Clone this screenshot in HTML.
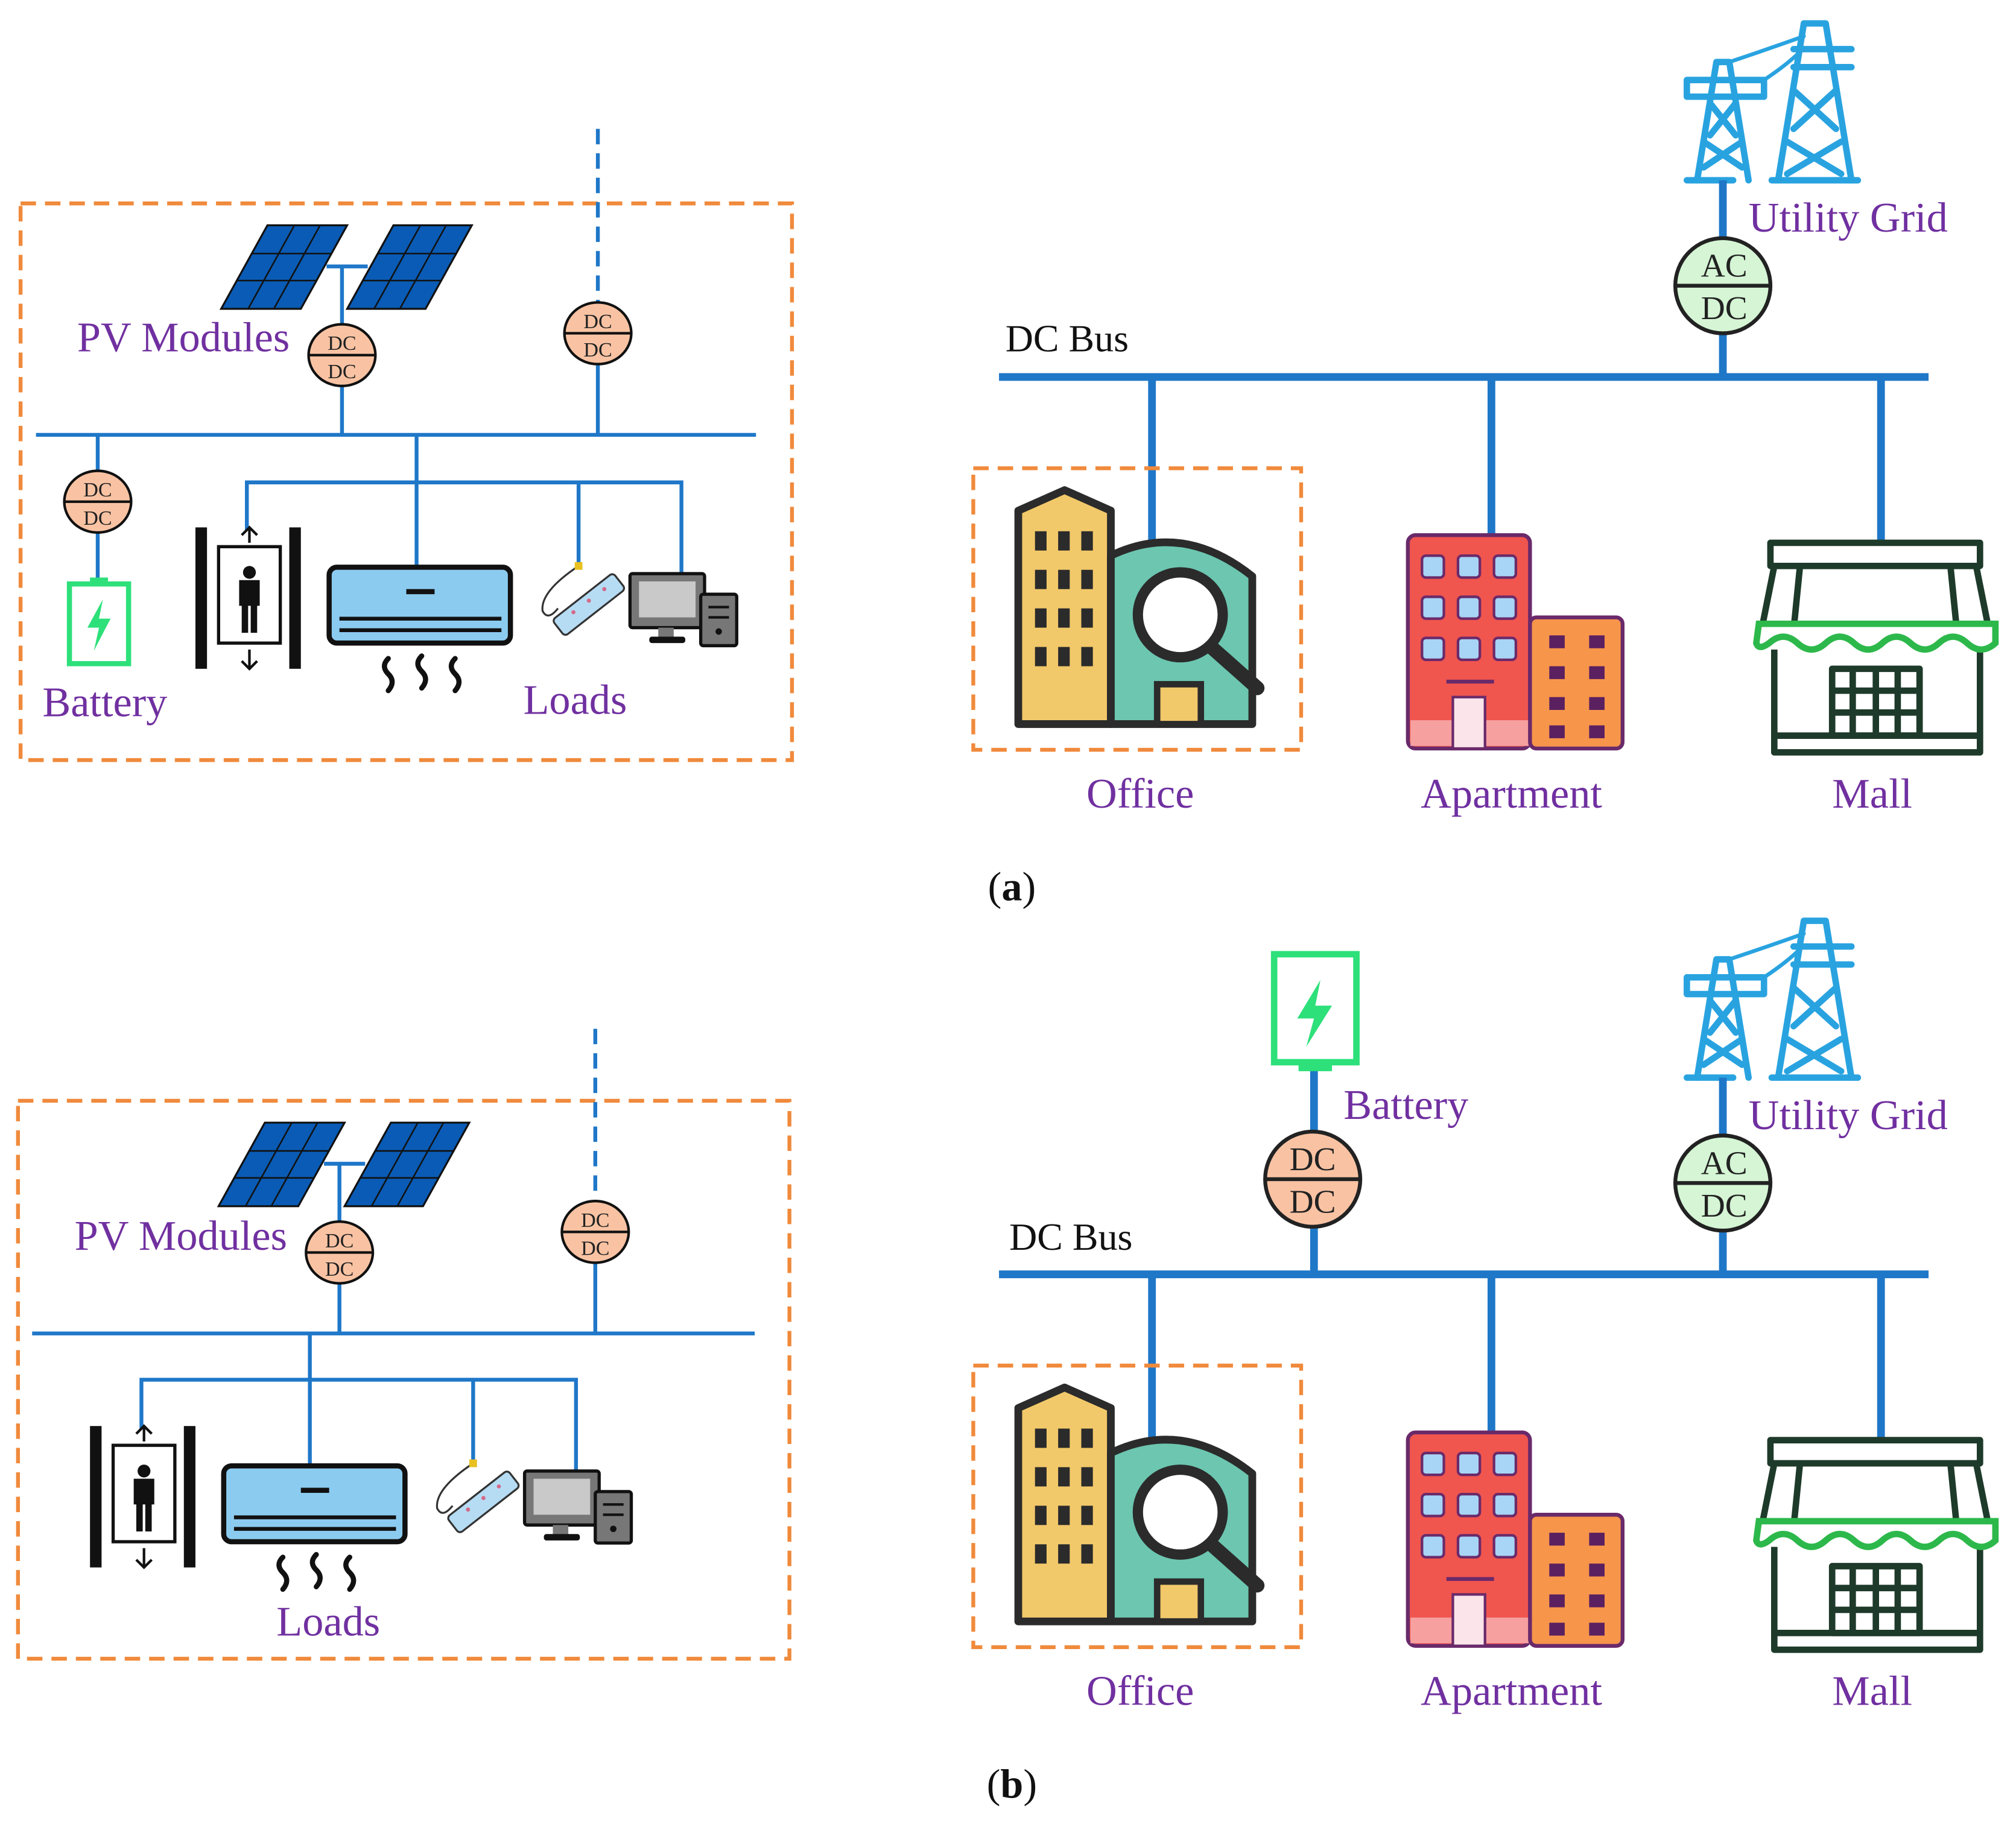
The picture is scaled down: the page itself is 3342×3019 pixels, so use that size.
<!DOCTYPE html>
<html><head><meta charset="utf-8"><style>
html,body{margin:0;padding:0;background:#fff;}
svg{display:block;}
text{font-family:"Liberation Serif",serif;}
</style></head><body>
<svg width="3342" height="3019" viewBox="0 0 1568 1416" xmlns="http://www.w3.org/2000/svg">
<defs>
<g id="pv">
 <polygon points="172,240 208,175 270,175 234,240" fill="#0a5bb5" stroke="#111" stroke-width="1.5"/>
 <g stroke="#111" stroke-width="1.2">
  <line x1="184" y1="218" x2="246" y2="218"/><line x1="196" y1="197" x2="258" y2="197"/>
  <line x1="193" y1="240" x2="229" y2="175"/><line x1="213" y1="240" x2="249" y2="175"/>
 </g>
 <polygon points="270,240 306,175 367,175 331,240" fill="#0a5bb5" stroke="#111" stroke-width="1.5"/>
 <g stroke="#111" stroke-width="1.2">
  <line x1="282" y1="218" x2="343" y2="218"/><line x1="294" y1="197" x2="355" y2="197"/>
  <line x1="291" y1="240" x2="327" y2="175"/><line x1="311" y1="240" x2="347" y2="175"/>
 </g>
 <line x1="254" y1="207" x2="286" y2="207" stroke="#1f77c8" stroke-width="3"/>
</g>
<g id="conv">
 <ellipse cx="0" cy="0" rx="26" ry="24" fill="#f9c3a3" stroke="#111" stroke-width="2"/>
 <line x1="-26" y1="0" x2="26" y2="0" stroke="#111" stroke-width="2"/>
 <text x="0" y="-4" font-size="16" text-anchor="middle" fill="#222">DC</text>
 <text x="0" y="18" font-size="16" text-anchor="middle" fill="#222">DC</text>
</g>
<g id="elev">
 <rect x="152" y="410" width="9" height="110" fill="#111"/>
 <rect x="225" y="410" width="9" height="110" fill="#111"/>
 <rect x="170" y="425" width="48" height="75" fill="#fff" stroke="#111" stroke-width="2.5"/>
 <circle cx="194" cy="445" r="5" fill="#111"/>
 <rect x="186" y="451" width="16" height="20" fill="#111"/>
 <rect x="188" y="470" width="5" height="22" fill="#111"/><rect x="195" y="470" width="5" height="22" fill="#111"/>
 <path d="M194,422 V410 M188,416 L194,410 L200,416 M194,505 V520 M188,514 L194,520 L200,514" stroke="#111" stroke-width="2" fill="none"/>
</g>
<g id="ac">
 <rect x="256" y="441" width="141" height="59" rx="6" fill="#8ccbf0" stroke="#111" stroke-width="4"/>
 <line x1="316" y1="460" x2="338" y2="460" stroke="#111" stroke-width="4"/>
 <line x1="264" y1="481" x2="390" y2="481" stroke="#111" stroke-width="3"/>
 <line x1="264" y1="490" x2="390" y2="490" stroke="#111" stroke-width="3"/>
 <path d="M302,512 q-6,6 0,12 q6,6 0,13 M328,510 q-6,6 0,12 q6,6 0,13 M354,512 q-6,6 0,12 q6,6 0,13" stroke="#111" stroke-width="4" fill="none" stroke-linecap="round"/>
</g>
<g id="strip">
 <path d="M450,440 q-30,20 -28,35 q4,8 12,-2" stroke="#333" stroke-width="1.5" fill="none"/>
 <rect x="447" y="437" width="6" height="6" fill="#e8c020"/>
 <rect x="428" y="462" width="60" height="16" rx="3" fill="#b6dcf4" stroke="#333" stroke-width="1.5" transform="rotate(-38 458 470)"/>
 <g fill="#d46a8a"><circle cx="446" cy="476" r="1.6"/><circle cx="458" cy="467" r="1.6"/><circle cx="470" cy="458" r="1.6"/></g>
</g>
<g id="pc">
 <rect x="490" y="446" width="58" height="42" rx="2" fill="#777" stroke="#111" stroke-width="2.5"/>
 <rect x="497" y="452" width="44" height="28" fill="#c9c9c9"/>
 <rect x="512" y="488" width="12" height="8" fill="#777"/>
 <rect x="505" y="495" width="28" height="5" rx="2" fill="#111"/>
 <rect x="545" y="462" width="28" height="40" rx="2" fill="#777" stroke="#111" stroke-width="2.5"/>
 <line x1="551" y1="472" x2="567" y2="472" stroke="#111" stroke-width="2"/>
 <line x1="551" y1="480" x2="567" y2="480" stroke="#111" stroke-width="2"/>
 <circle cx="559" cy="491" r="2.5" fill="#111"/>
</g>
<g id="batt">
 <rect x="0" y="0" width="46" height="62" fill="#fff" stroke="#2de07a" stroke-width="4"/>
 <rect x="16" y="-5" width="14" height="5" fill="#2de07a"/>
 <path d="M26,12 L14,34 L23,34 L19,52 L32,27 L23,27 Z" fill="#2de07a"/>
</g>
<g id="tower" stroke="#29a3e0" stroke-width="5" fill="none" stroke-linecap="round">
 <path d="M1320,140 L1335,48 M1360,140 L1345,48 M1335,48 L1345,48 M1312,62 H1372 M1312,75 H1372 M1312,62 V75 M1372,62 V75"/>
 <path d="M1325,110 L1355,130 M1355,110 L1325,130 M1330,80 L1350,105 M1350,80 L1330,105"/>
 <path d="M1383,140 L1403,18 M1440,140 L1420,18 M1403,18 H1420 M1395,38 H1440 M1395,52 H1440"/>
 <path d="M1390,110 L1432,135 M1432,110 L1390,135 M1395,70 L1428,100 M1428,70 L1395,100"/>
 <path d="M1345,48 Q1375,38 1403,28 M1372,62 Q1390,50 1400,40" stroke-width="3"/>
 <path d="M1312,140 H1348 M1378,140 H1445"/>
</g>
<g id="acdc">
 <circle cx="1340" cy="0" r="37" fill="#d5f5d5" stroke="#222" stroke-width="3"/>
 <line x1="1303" y1="0" x2="1377" y2="0" stroke="#222" stroke-width="3"/>
 <text x="1341" y="-7" font-size="26" text-anchor="middle" fill="#222">AC</text>
 <text x="1341" y="26" font-size="26" text-anchor="middle" fill="#222">DC</text>
</g>
<g id="right">
 <line x1="777" y1="293" x2="1500" y2="293" stroke="#1f77c8" stroke-width="6"/>
 <g stroke="#1f77c8" stroke-width="6">
  <line x1="896" y1="293" x2="896" y2="420"/>
  <line x1="1160" y1="293" x2="1160" y2="418"/>
  <line x1="1463" y1="293" x2="1463" y2="422"/>
 </g>
 <rect x="757" y="364" width="255" height="219" fill="none" stroke="#f08a3c" stroke-width="3" stroke-dasharray="12,7"/>
 <polygon points="792,563 792,397 828,381 864,397 864,563" fill="#f2c96a" stroke="#2b2b2b" stroke-width="6" stroke-linejoin="round"/>
 <g fill="#2b2b2b">
  <rect x="805" y="413" width="9" height="15"/><rect x="823" y="413" width="9" height="15"/><rect x="841" y="413" width="9" height="15"/>
  <rect x="805" y="443" width="9" height="15"/><rect x="823" y="443" width="9" height="15"/><rect x="841" y="443" width="9" height="15"/>
  <rect x="805" y="473" width="9" height="15"/><rect x="823" y="473" width="9" height="15"/><rect x="841" y="473" width="9" height="15"/>
  <rect x="805" y="503" width="9" height="15"/><rect x="823" y="503" width="9" height="15"/><rect x="841" y="503" width="9" height="15"/>
 </g>
 <path d="M864,563 V432 Q920,405 974,448 V563 Z" fill="#6cc6b0" stroke="#2b2b2b" stroke-width="6" stroke-linejoin="round"/>
 <rect x="900" y="532" width="34" height="31" fill="#f2c96a" stroke="#2b2b2b" stroke-width="5"/>
 <line x1="942" y1="503" x2="978" y2="535" stroke="#2b2b2b" stroke-width="11" stroke-linecap="round"/>
 <circle cx="918" cy="478" r="33" fill="#fff" stroke="#2b2b2b" stroke-width="8"/>
 <rect x="1095" y="416" width="95" height="166" rx="6" fill="#f0554e" stroke="#6a2a6a" stroke-width="3"/>
 <rect x="1097" y="560" width="92" height="20" fill="#f6a0a0"/>
 <g fill="#a8d4f5" stroke="#6a2a6a" stroke-width="2">
  <rect x="1106" y="432" width="17" height="17" rx="3"/><rect x="1134" y="432" width="17" height="17" rx="3"/><rect x="1162" y="432" width="17" height="17" rx="3"/>
  <rect x="1106" y="464" width="17" height="17" rx="3"/><rect x="1134" y="464" width="17" height="17" rx="3"/><rect x="1162" y="464" width="17" height="17" rx="3"/>
  <rect x="1106" y="496" width="17" height="17" rx="3"/><rect x="1134" y="496" width="17" height="17" rx="3"/><rect x="1162" y="496" width="17" height="17" rx="3"/>
 </g>
 <line x1="1125" y1="530" x2="1162" y2="530" stroke="#6a2a6a" stroke-width="3"/>
 <rect x="1130" y="542" width="25" height="40" fill="#fbe4ea" stroke="#6a2a6a" stroke-width="2"/>
 <rect x="1190" y="480" width="72" height="102" rx="5" fill="#f7954a" stroke="#6a2a6a" stroke-width="3"/>
 <g fill="#5a2060">
  <rect x="1205" y="494" width="12" height="10"/><rect x="1236" y="494" width="12" height="10"/>
  <rect x="1205" y="518" width="12" height="10"/><rect x="1236" y="518" width="12" height="10"/>
  <rect x="1205" y="542" width="12" height="10"/><rect x="1236" y="542" width="12" height="10"/>
  <rect x="1205" y="564" width="12" height="10"/><rect x="1236" y="564" width="12" height="10"/>
 </g>
 <g fill="none" stroke="#1e3a2a" stroke-width="5" stroke-linejoin="round">
  <rect x="1377" y="422" width="163" height="18"/>
  <path d="M1380,440 L1370,490 M1537,440 L1547,490 M1400,440 L1395,490 M1517,440 L1522,490"/>
  <path d="M1380,505 V585 H1540 V505 M1380,572 H1540"/>
  <rect x="1425" y="520" width="68" height="52"/>
  <path d="M1441,520 V572 M1459,520 V572 M1476,520 V572 M1425,537 H1493 M1425,554 H1493"/>
 </g>
 <path d="M1368,485 H1552 V500 Q1541,510 1530,500 Q1519,490 1508,500 Q1497,510 1486,500 Q1475,490 1464,500 Q1453,510 1442,500 Q1431,490 1420,500 Q1409,510 1398,500 Q1387,490 1376,500 Q1368,506 1366,500 Z" fill="#fff" stroke="#2db84b" stroke-width="5"/>
 <use href="#tower"/>
 <line x1="1340" y1="140" x2="1340" y2="293" stroke="#1f77c8" stroke-width="6"/>
 <use href="#acdc" y="222"/>
 <g font-size="33" fill="#7030a0">
  <text x="845" y="628">Office</text>
  <text x="1105" y="628">Apartment</text>
  <text x="1425" y="628">Mall</text>
  <text x="1360" y="180">Utility  Grid</text>
 </g>
</g>
</defs>

<rect x="16" y="158" width="600" height="433" fill="none" stroke="#f08a3c" stroke-width="3" stroke-dasharray="12,7"/>
<line x1="465" y1="100" x2="465" y2="235" stroke="#1f77c8" stroke-width="3" stroke-dasharray="12,7"/>
<g stroke="#1f77c8" stroke-width="3" fill="none">
 <line x1="465" y1="259" x2="465" y2="338"/>
 <line x1="266" y1="207" x2="266" y2="338"/>
 <line x1="28" y1="338" x2="588" y2="338"/>
 <line x1="76" y1="338" x2="76" y2="390"/>
 <line x1="76" y1="410" x2="76" y2="450"/>
 <line x1="324" y1="338" x2="324" y2="441"/>
 <path d="M192,412 V375 H530 V446 M450,375 V440"/>
</g>
<use href="#pv"/>
<use href="#conv" x="266" y="276"/>
<use href="#conv" x="465" y="259"/>
<use href="#conv" x="76" y="390"/>
<use href="#batt" x="54" y="454"/>
<use href="#elev"/><use href="#ac"/><use href="#strip"/><use href="#pc"/>
<g font-size="33" fill="#7030a0">
 <text x="60" y="273">PV Modules</text>
 <text x="33" y="557">Battery</text>
 <text x="407" y="555">Loads</text>
</g>

<use href="#right"/>
<text x="782" y="273" font-size="30" fill="#111">DC Bus</text>
<text x="787" y="700" font-size="32" fill="#111" text-anchor="middle">(<tspan font-weight="bold">a</tspan>)</text>

<rect x="14" y="856" width="600" height="434" fill="none" stroke="#f08a3c" stroke-width="3" stroke-dasharray="12,7"/>
<line x1="463" y1="800" x2="463" y2="934" stroke="#1f77c8" stroke-width="3" stroke-dasharray="12,7"/>
<g stroke="#1f77c8" stroke-width="3" fill="none">
 <line x1="463" y1="958" x2="463" y2="1037"/>
 <line x1="264" y1="905" x2="264" y2="1037"/>
 <line x1="25" y1="1037" x2="587" y2="1037"/>
 <line x1="241" y1="1037" x2="241" y2="1140"/>
 <path d="M110,1111 V1073 H448 V1144 M368,1073 V1138"/>
</g>
<use href="#pv" x="-2" y="698"/>
<use href="#conv" x="264" y="974"/>
<use href="#conv" x="463" y="958"/>
<use href="#elev" x="-82" y="699"/>
<use href="#ac" x="-82" y="699"/>
<use href="#strip" x="-82" y="698"/>
<use href="#pc" x="-82" y="698"/>
<g font-size="33" fill="#7030a0">
 <text x="58" y="972">PV Modules</text>
 <text x="215" y="1272">Loads</text>
</g>

<use href="#right" y="698"/>
<text x="785" y="972" font-size="30" fill="#111">DC Bus</text>
<line x1="1022" y1="830" x2="1022" y2="992" stroke="#1f77c8" stroke-width="6"/>
<rect x="991" y="742" width="64" height="84" fill="#fff" stroke="#2de07a" stroke-width="5"/>
<rect x="1010" y="826" width="26" height="7" fill="#2de07a"/>
<path d="M1027,762 L1009,792 L1022,792 L1016,814 L1036,782 L1023,782 Z" fill="#2de07a"/>
<circle cx="1021" cy="917" r="37" fill="#f9c3a3" stroke="#222" stroke-width="3"/>
<line x1="984" y1="917" x2="1058" y2="917" stroke="#222" stroke-width="3"/>
<text x="1021" y="910" font-size="26" text-anchor="middle" fill="#222">DC</text>
<text x="1021" y="943" font-size="26" text-anchor="middle" fill="#222">DC</text>
<text x="1045" y="870" font-size="33" fill="#7030a0">Battery</text>
<text x="787" y="1398" font-size="32" fill="#111" text-anchor="middle">(<tspan font-weight="bold">b</tspan>)</text>
</svg>
</body></html>
